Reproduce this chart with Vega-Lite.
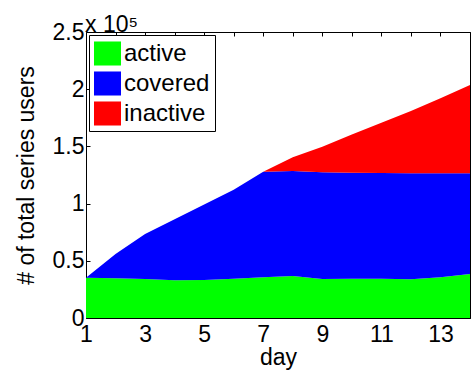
{
  "$schema": "https://vega.github.io/schema/vega-lite/v6.json",
  "autosize": "none",
  "width": 384,
  "height": 286,
  "padding": {"left": 86, "top": 32, "right": 2, "bottom": 63},
  "background": "white",
  "config": {
    "view": {"stroke": "black", "strokeWidth": 1},
    "font": "Liberation Sans",
    "axis": {
      "domain": false,
      "grid": false,
      "tickColor": "black",
      "labelColor": "black",
      "titleColor": "black",
      "labelFont": "Liberation Sans",
      "titleFont": "Liberation Sans",
      "labelFontSize": 23,
      "titleFontSize": 23,
      "titleFontWeight": "normal"
    }
  },
  "title": {
    "text": "x 10⁵",
    "anchor": "start",
    "frame": "group",
    "orient": "top",
    "font": "Liberation Sans",
    "fontSize": 23,
    "fontWeight": "normal",
    "color": "black",
    "baseline": "alphabetic",
    "offset": -34,
    "dx": -1
  },
  "data": {
    "values": [
      {"day": 1, "series": "active", "users": 35200},
      {"day": 2, "series": "active", "users": 34700},
      {"day": 3, "series": "active", "users": 34100},
      {"day": 4, "series": "active", "users": 32900},
      {"day": 5, "series": "active", "users": 33200},
      {"day": 6, "series": "active", "users": 34400},
      {"day": 7, "series": "active", "users": 35600},
      {"day": 8, "series": "active", "users": 36700},
      {"day": 9, "series": "active", "users": 34100},
      {"day": 10, "series": "active", "users": 34400},
      {"day": 11, "series": "active", "users": 34400},
      {"day": 12, "series": "active", "users": 33800},
      {"day": 13, "series": "active", "users": 35600},
      {"day": 14, "series": "active", "users": 38500},
      {"day": 1, "series": "covered", "users": 0},
      {"day": 2, "series": "covered", "users": 21300},
      {"day": 3, "series": "covered", "users": 39300},
      {"day": 4, "series": "covered", "users": 53400},
      {"day": 5, "series": "covered", "users": 66100},
      {"day": 6, "series": "covered", "users": 77600},
      {"day": 7, "series": "covered", "users": 92200},
      {"day": 8, "series": "covered", "users": 91800},
      {"day": 9, "series": "covered", "users": 93400},
      {"day": 10, "series": "covered", "users": 92600},
      {"day": 11, "series": "covered", "users": 92300},
      {"day": 12, "series": "covered", "users": 92700},
      {"day": 13, "series": "covered", "users": 90900},
      {"day": 14, "series": "covered", "users": 88000},
      {"day": 1, "series": "inactive", "users": 0},
      {"day": 2, "series": "inactive", "users": 0},
      {"day": 3, "series": "inactive", "users": 0},
      {"day": 4, "series": "inactive", "users": 0},
      {"day": 5, "series": "inactive", "users": 0},
      {"day": 6, "series": "inactive", "users": 0},
      {"day": 7, "series": "inactive", "users": 0},
      {"day": 8, "series": "inactive", "users": 12000},
      {"day": 9, "series": "inactive", "users": 22200},
      {"day": 10, "series": "inactive", "users": 33500},
      {"day": 11, "series": "inactive", "users": 44000},
      {"day": 12, "series": "inactive", "users": 54500},
      {"day": 13, "series": "inactive", "users": 65500},
      {"day": 14, "series": "inactive", "users": 77200}
    ]
  },
  "resolve": {"axis": {"x": "independent", "y": "independent"}},
  "layer": [
    {
      "mark": {"type": "area", "interpolate": "linear"},
      "encoding": {
        "x": {
          "field": "day",
          "type": "quantitative",
          "scale": {"domain": [1, 14], "nice": false, "zero": false},
          "axis": {
            "orient": "bottom",
            "title": "day",
            "values": [1, 2, 3, 4, 5, 6, 7, 8, 9, 10, 11, 12, 13, 14],
            "labelExpr": "datum.value % 2 == 1 ? datum.label : ''",
            "tickSize": -4,
            "labelPadding": 9,
            "titlePadding": 0,
            "labelFlush": false
          }
        },
        "y": {
          "field": "users",
          "type": "quantitative",
          "stack": "zero",
          "scale": {"domain": [0, 250000], "nice": false},
          "axis": {
            "orient": "left",
            "title": "# of total series users",
            "values": [0, 50000, 100000, 150000, 200000, 250000],
            "labelExpr": "format(datum.value / 100000, '~g')",
            "tickSize": -4,
            "labelPadding": 6,
            "titlePadding": 14,
            "labelFlush": false
          }
        },
        "color": {
          "field": "series",
          "type": "nominal",
          "scale": {"domain": ["active", "covered", "inactive"], "range": ["#00ff00", "#0000ff", "#ff0000"]},
          "legend": {
            "title": null,
            "orient": "none",
            "legendX": 3,
            "legendY": 3,
            "strokeColor": "black",
            "fillColor": "white",
            "padding": 5,
            "symbolType": "M-1,-0.89H1V0.89H-1Z",
            "symbolSize": 729,
            "symbolStrokeWidth": 0,
            "symbolOpacity": 1,
            "labelFont": "Liberation Sans",
            "labelFontSize": 24,
            "labelColor": "black",
            "labelOffset": 3,
            "rowPadding": 4
          }
        },
        "order": {"field": "series", "sort": "ascending"}
      }
    },
    {
      "mark": {"type": "point", "opacity": 0},
      "encoding": {
        "x": {
          "field": "day",
          "type": "quantitative",
          "axis": {
            "orient": "top",
            "title": null,
            "labels": false,
            "values": [1, 2, 3, 4, 5, 6, 7, 8, 9, 10, 11, 12, 13, 14],
            "tickSize": -4
          }
        },
        "y": {
          "field": "users",
          "type": "quantitative",
          "stack": null,
          "axis": {
            "orient": "right",
            "title": null,
            "labels": false,
            "values": [0, 50000, 100000, 150000, 200000, 250000],
            "tickSize": -4
          }
        }
      }
    }
  ]
}
